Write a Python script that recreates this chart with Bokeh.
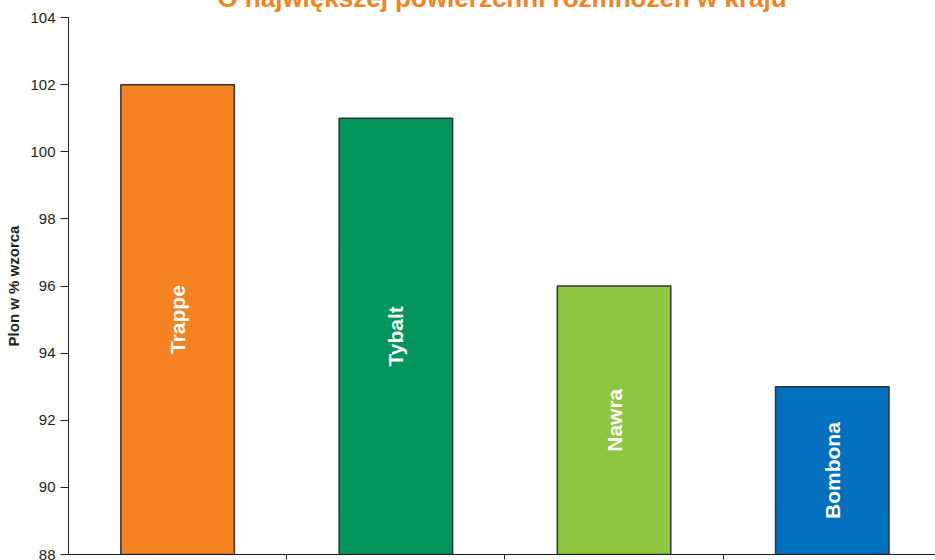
import numpy as np
from bokeh.plotting import figure
from bokeh.models import Range1d, FixedTicker, ColumnDataSource
from bokeh.core.properties import value
from bokeh.embed import file_html
from bokeh.resources import INLINE

categories = ["Trappe", "Tybalt", "Nawra", "Bombona"]
yields = [102, 101, 96, 93]
colors = ["#F58220", "#00955A", "#8DC63F", "#0070BF"]
y_ticks = [88, 90, 92, 94, 96, 98, 100, 102, 104]
title_text = "O największej powierzchni rozmnożeń w kraju"
y_label = "Plon w % wzorca"

base = 88
FONT = "Liberation Sans"
EXTRA = 33  # part of the title area that lies above the visible page

x = np.arange(len(categories)) + 0.5
src = ColumnDataSource(dict(
    x=x, top=yields, color=colors, name=categories,
    mid=[(base + v) / 2 for v in yields],
))

p = figure(width=935, height=560 + EXTRA, output_backend="svg",
           toolbar_location=None,
           x_range=Range1d(0, 3.973), y_range=Range1d(base, 104),
           min_border_left=68, min_border_right=0, min_border_top=17 + EXTRA,
           min_border_bottom=6, margin=(-EXTRA, 0, 0, 0))
p.background_fill_color = "white"
p.border_fill_color = "white"
p.outline_line_color = None
p.grid.visible = False

p.title.text = title_text
p.title.align = "center"
p.title.text_font = FONT
p.title.text_font_style = "bold"
p.title.text_font_size = "26px"
p.title.text_color = "#F58220"
p.title.standoff = 10

p.vbar(x="x", top="top", bottom=base, width=0.52, fill_color="color",
       line_color="#333333", line_width=1.5, source=src)
p.text(x="x", y="mid", text="name", angle=np.pi / 2, text_align="center",
       text_baseline="middle", text_color="white", text_font=value(FONT),
       text_font_style="bold", text_font_size="21px", source=src)

# y axis
ya = p.yaxis[0]
ya.ticker = FixedTicker(ticks=y_ticks)
ya.minor_tick_line_color = None
ya.major_tick_in = 0
ya.major_tick_out = 8
ya.axis_line_color = "#231F20"
ya.major_tick_line_color = "#231F20"
ya.major_label_text_font = FONT
ya.major_label_text_font_size = "15px"
ya.major_label_text_color = "#231F20"
ya.major_label_standoff = 5
ya.axis_label = y_label
ya.axis_label_text_font = FONT
ya.axis_label_text_font_style = "bold"
ya.axis_label_text_font_size = "15px"
ya.axis_label_text_color = "#231F20"
ya.axis_label_standoff = 5

# x axis (category separators only)
sep_ticks = list(range(1, len(categories)))
xa = p.xaxis[0]
xa.ticker = FixedTicker(ticks=sep_ticks)
xa.major_label_overrides = {t: "" for t in sep_ticks}
xa.minor_tick_line_color = None
xa.major_tick_in = 0
xa.major_tick_out = 5
xa.major_label_standoff = 0
xa.major_label_text_font_size = "1px"
xa.axis_line_color = "#231F20"
xa.major_tick_line_color = "#231F20"

open("out.html", "w").write(file_html(p, INLINE))
